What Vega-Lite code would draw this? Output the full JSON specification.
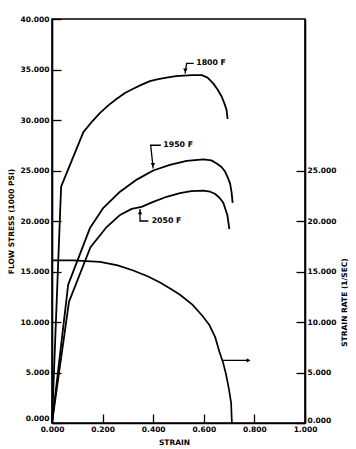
{
  "$schema": "https://vega.github.io/schema/vega-lite/v6.json",
  "width": 253,
  "height": 404,
  "autosize": {"type": "none"},
  "padding": {"left": 52, "top": 19, "right": 51, "bottom": 26},
  "background": "white",
  "config": {
    "view": {"stroke": "black", "strokeWidth": 1.6},
    "axis": {
      "labelFont": "DejaVu Sans", "labelFontWeight": "bold", "labelFontSize": 7.5, "labelColor": "black",
      "titleFont": "DejaVu Sans", "titleFontWeight": "bold", "titleFontSize": 7.5, "titleColor": "black",
      "domainColor": "black", "domainWidth": 1.6, "tickColor": "black", "tickWidth": 1.3, "grid": false
    }
  },
  "datasets": {
    "curves": [
      {"series": "1800 F", "o": 0, "strain": 0, "stress": 0},
      {"series": "1800 F", "o": 1, "strain": 0.036, "stress": 23.4},
      {"series": "1800 F", "o": 2, "strain": 0.124, "stress": 28.8},
      {"series": "1800 F", "o": 3, "strain": 0.160, "stress": 29.9},
      {"series": "1800 F", "o": 4, "strain": 0.190, "stress": 30.7},
      {"series": "1800 F", "o": 5, "strain": 0.225, "stress": 31.5},
      {"series": "1800 F", "o": 6, "strain": 0.256, "stress": 32.1},
      {"series": "1800 F", "o": 7, "strain": 0.290, "stress": 32.7},
      {"series": "1800 F", "o": 8, "strain": 0.321, "stress": 33.1},
      {"series": "1800 F", "o": 9, "strain": 0.355, "stress": 33.5},
      {"series": "1800 F", "o": 10, "strain": 0.387, "stress": 33.85},
      {"series": "1800 F", "o": 11, "strain": 0.420, "stress": 34.05},
      {"series": "1800 F", "o": 12, "strain": 0.453, "stress": 34.2},
      {"series": "1800 F", "o": 13, "strain": 0.490, "stress": 34.35},
      {"series": "1800 F", "o": 14, "strain": 0.519, "stress": 34.4},
      {"series": "1800 F", "o": 15, "strain": 0.555, "stress": 34.45},
      {"series": "1800 F", "o": 16, "strain": 0.592, "stress": 34.45},
      {"series": "1800 F", "o": 17, "strain": 0.615, "stress": 34.2},
      {"series": "1800 F", "o": 18, "strain": 0.638, "stress": 33.6},
      {"series": "1800 F", "o": 19, "strain": 0.655, "stress": 33.0},
      {"series": "1800 F", "o": 20, "strain": 0.671, "stress": 32.3},
      {"series": "1800 F", "o": 21, "strain": 0.682, "stress": 31.6},
      {"series": "1800 F", "o": 22, "strain": 0.690, "stress": 31.0},
      {"series": "1800 F", "o": 23, "strain": 0.694, "stress": 30.1},
      {"series": "1950 F", "o": 0, "strain": 0, "stress": 0},
      {"series": "1950 F", "o": 1, "strain": 0.064, "stress": 13.7},
      {"series": "1950 F", "o": 2, "strain": 0.150, "stress": 19.3},
      {"series": "1950 F", "o": 3, "strain": 0.203, "stress": 21.3},
      {"series": "1950 F", "o": 4, "strain": 0.269, "stress": 22.9},
      {"series": "1950 F", "o": 5, "strain": 0.335, "stress": 24.1},
      {"series": "1950 F", "o": 6, "strain": 0.400, "stress": 25.0},
      {"series": "1950 F", "o": 7, "strain": 0.466, "stress": 25.55},
      {"series": "1950 F", "o": 8, "strain": 0.532, "stress": 25.95},
      {"series": "1950 F", "o": 9, "strain": 0.598, "stress": 26.1},
      {"series": "1950 F", "o": 10, "strain": 0.630, "stress": 26.0},
      {"series": "1950 F", "o": 11, "strain": 0.651, "stress": 25.7},
      {"series": "1950 F", "o": 12, "strain": 0.670, "stress": 25.35},
      {"series": "1950 F", "o": 13, "strain": 0.684, "stress": 24.9},
      {"series": "1950 F", "o": 14, "strain": 0.695, "stress": 24.3},
      {"series": "1950 F", "o": 15, "strain": 0.704, "stress": 23.7},
      {"series": "1950 F", "o": 16, "strain": 0.710, "stress": 22.8},
      {"series": "1950 F", "o": 17, "strain": 0.714, "stress": 21.8},
      {"series": "2050 F", "o": 0, "strain": 0, "stress": 0},
      {"series": "2050 F", "o": 1, "strain": 0.067, "stress": 12.0},
      {"series": "2050 F", "o": 2, "strain": 0.152, "stress": 17.4},
      {"series": "2050 F", "o": 3, "strain": 0.216, "stress": 19.4},
      {"series": "2050 F", "o": 4, "strain": 0.269, "stress": 20.6},
      {"series": "2050 F", "o": 5, "strain": 0.315, "stress": 21.2},
      {"series": "2050 F", "o": 6, "strain": 0.354, "stress": 21.4},
      {"series": "2050 F", "o": 7, "strain": 0.400, "stress": 21.9},
      {"series": "2050 F", "o": 8, "strain": 0.453, "stress": 22.4},
      {"series": "2050 F", "o": 9, "strain": 0.506, "stress": 22.75},
      {"series": "2050 F", "o": 10, "strain": 0.550, "stress": 22.95},
      {"series": "2050 F", "o": 11, "strain": 0.598, "stress": 23.0},
      {"series": "2050 F", "o": 12, "strain": 0.625, "stress": 22.9},
      {"series": "2050 F", "o": 13, "strain": 0.644, "stress": 22.7},
      {"series": "2050 F", "o": 14, "strain": 0.662, "stress": 22.3},
      {"series": "2050 F", "o": 15, "strain": 0.677, "stress": 21.8},
      {"series": "2050 F", "o": 16, "strain": 0.693, "stress": 20.6},
      {"series": "2050 F", "o": 17, "strain": 0.701, "stress": 19.2}
    ],
    "rate": [
      {"strain": 0, "rate": 16.1},
      {"strain": 0.084, "rate": 16.1},
      {"strain": 0.190, "rate": 15.95},
      {"strain": 0.260, "rate": 15.6},
      {"strain": 0.321, "rate": 15.1},
      {"strain": 0.380, "rate": 14.5},
      {"strain": 0.427, "rate": 13.9},
      {"strain": 0.475, "rate": 13.2},
      {"strain": 0.506, "rate": 12.7},
      {"strain": 0.556, "rate": 11.7},
      {"strain": 0.595, "rate": 10.6},
      {"strain": 0.622, "rate": 9.7},
      {"strain": 0.645, "rate": 8.5},
      {"strain": 0.661, "rate": 7.1},
      {"strain": 0.676, "rate": 6.0},
      {"strain": 0.688, "rate": 4.8},
      {"strain": 0.699, "rate": 3.4},
      {"strain": 0.708, "rate": 2.0},
      {"strain": 0.711, "rate": 0}
    ],
    "leaders": [
      {"seg": "1800 F", "o": 0, "strain": 0.526, "stress": 34.6},
      {"seg": "1800 F", "o": 1, "strain": 0.532, "stress": 35.6},
      {"seg": "1800 F", "o": 2, "strain": 0.560, "stress": 35.6},
      {"seg": "1950 F", "o": 0, "strain": 0.400, "stress": 25.2},
      {"seg": "1950 F", "o": 1, "strain": 0.390, "stress": 27.5},
      {"seg": "1950 F", "o": 2, "strain": 0.430, "stress": 27.5},
      {"seg": "2050 F", "o": 0, "strain": 0.348, "stress": 21.2},
      {"seg": "2050 F", "o": 1, "strain": 0.348, "stress": 20.0},
      {"seg": "2050 F", "o": 2, "strain": 0.381, "stress": 20.0},
      {"seg": "rate", "o": 0, "strain": 0.675, "stress": 6.2},
      {"seg": "rate", "o": 1, "strain": 0.780, "stress": 6.2}
    ],
    "arrows": [
      {"dir": "down", "strain": 0.527, "stress": 34.9},
      {"dir": "down", "strain": 0.399, "stress": 25.55},
      {"dir": "up", "strain": 0.348, "stress": 20.85},
      {"dir": "right", "strain": 0.777, "stress": 6.2}
    ],
    "labels": [
      {"label": "1800 F", "strain": 0.570, "stress": 35.6},
      {"label": "1950 F", "strain": 0.440, "stress": 27.5},
      {"label": "2050 F", "strain": 0.394, "stress": 20.0}
    ]
  },
  "encoding": {
    "x": {
      "field": "strain", "type": "quantitative",
      "scale": {"domain": [0, 1], "nice": false, "zero": false},
      "axis": {
        "title": "STRAIN", "values": [0, 0.2, 0.4, 0.6, 0.8, 1.0], "format": ".3f",
        "tickSize": -9, "labelPadding": 11, "labelFlush": false,
        "titleX": 122, "titleY": 19, "titleAlign": "center", "titleBaseline": "middle"
      }
    }
  },
  "layer": [
    {
      "encoding": {
        "y": {
          "field": "stress", "type": "quantitative",
          "scale": {"domain": [0, 40], "nice": false, "zero": false},
          "axis": {
            "title": "FLOW STRESS (1000 PSI)", "values": [0, 5, 10, 15, 20, 25, 30, 35, 40], "format": ".3f",
            "tickSize": -9, "labelPadding": 12, "titlePadding": 5, "labelFlush": false,
            "labelOffset": {"condition": {"test": "datum.value === 0", "value": -5}, "value": 0}
          }
        }
      },
      "layer": [
        {
          "data": {"name": "curves"},
          "mark": {"type": "line", "color": "black", "strokeWidth": 1.8, "strokeJoin": "round"},
          "encoding": {"detail": {"field": "series"}, "order": {"field": "o", "type": "quantitative"}}
        },
        {
          "data": {"name": "leaders"},
          "mark": {"type": "line", "color": "black", "strokeWidth": 1.3},
          "encoding": {"detail": {"field": "seg"}, "order": {"field": "o", "type": "quantitative"}}
        },
        {
          "data": {"name": "arrows"},
          "mark": {"type": "point", "filled": true, "color": "black", "opacity": 1, "size": 20},
          "encoding": {
            "shape": {
              "field": "dir", "type": "nominal",
              "scale": {"domain": ["down", "up", "right"], "range": ["triangle-down", "triangle-up", "triangle-right"]},
              "legend": null
            }
          }
        },
        {
          "data": {"name": "labels"},
          "mark": {"type": "text", "font": "DejaVu Sans", "fontWeight": "bold", "fontSize": 7.8, "align": "left", "baseline": "middle", "color": "black"},
          "encoding": {"text": {"field": "label"}}
        }
      ]
    },
    {
      "data": {"name": "rate"},
      "mark": {"type": "line", "color": "black", "strokeWidth": 1.7},
      "encoding": {
        "y": {
          "field": "rate", "type": "quantitative",
          "scale": {"domain": [0, 40], "nice": false, "zero": false},
          "axis": {
            "orient": "right", "title": "STRAIN RATE (1/SEC)", "values": [0, 5, 10, 15, 20, 25], "format": ".3f",
            "tickSize": -9, "labelPadding": 11, "labelFlush": false,
            "labelOffset": {"condition": {"test": "datum.value === 0", "value": -3}, "value": 0},
            "titleAngle": 270, "titleX": 39.5, "titleY": 283, "titleAlign": "center", "titleBaseline": "middle"
          }
        }
      }
    }
  ],
  "resolve": {"scale": {"y": "independent"}}
}
